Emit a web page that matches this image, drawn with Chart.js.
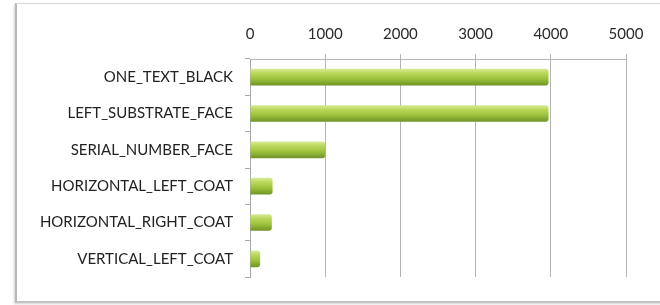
<!DOCTYPE html>
<html>
<head>
<meta charset="utf-8">
<script src="https://cdn.jsdelivr.net/npm/chart.js@4/dist/chart.umd.min.js"></script>
<style>
  html, body { margin: 0; padding: 0; background: #ffffff; width: 660px; height: 305px; overflow: hidden; }
  #frame { position: absolute; left: 15px; top: 3px; width: 700px; height: 297px;
           border: 1px solid #d6d6d6; border-left: 2px solid #b8b8b8; border-bottom: 2px solid #c4c4c4;
           box-shadow: -1px 1px 2px rgba(0,0,0,0.18); background: #fff; }
  #wrap { position: absolute; left: 0; top: 0; width: 660px; height: 305px; }
</style>
</head>
<body>
<div id="frame"></div>
<div id="wrap"><canvas id="c" width="660" height="305"></canvas></div>
<script>
const categories = ["ONE_TEXT_BLACK", "LEFT_SUBSTRATE_FACE", "SERIAL_NUMBER_FACE", "HORIZONTAL_LEFT_COAT", "HORIZONTAL_RIGHT_COAT", "VERTICAL_LEFT_COAT"];
const counts = [3970, 3970, 1000, 300, 290, 135];
const xTicks = [0, 1000, 2000, 3000, 4000, 5000];

function barFill(ctx) {
  const chart = ctx.chart;
  const ys = chart.scales && chart.scales.y;
  if (!chart.chartArea || !ys || ctx.dataIndex === undefined) return '#9bc13c';
  const c = ys.getPixelForValue(ctx.dataIndex);
  const h = 17;
  const g = chart.ctx.createLinearGradient(0, c - h / 2, 0, c + h / 2);
  g.addColorStop(0, '#d9ec9a');
  g.addColorStop(0.25, '#bcd95e');
  g.addColorStop(0.6, '#9cc23c');
  g.addColorStop(1, '#6e9226');
  return g;
}

new Chart(document.getElementById('c'), {
  type: 'bar',
  data: {
    labels: categories,
    datasets: [{
      data: counts,
      backgroundColor: barFill,
      borderWidth: 0,
      borderRadius: { topRight: 3, bottomRight: 3 },
      borderSkipped: 'left',
      barPercentage: 0.9,
      categoryPercentage: 0.51
    }]
  },
  options: {
    indexAxis: 'y',
    responsive: false,
    animation: false,
    devicePixelRatio: 1,
    layout: { padding: { left: 0, right: 34, top: 0, bottom: 28 } },
    plugins: { legend: { display: false }, tooltip: { enabled: false } },
    scales: {
      x: {
        position: 'top',
        min: 0, max: 5000,
        afterBuildTicks: (s) => { s.ticks = xTicks.map(v => ({ value: v })); },
        afterFit: (s) => { s.height = 59; },
        ticks: { color: '#2a2a2a', font: { family: 'Lato', size: 15 }, padding: 11, maxRotation: 0,
                 callback: (v) => String(v) },
        grid: { color: (c) => c.tick && c.tick.value === 0 ? 'rgba(0,0,0,0)' : '#b4b4b4', lineWidth: 1, tickLength: 5, drawTicks: true },
        border: { display: true, color: '#b4b4b4', width: 1 }
      },
      y: {
        afterFit: (s) => { s.width = 250; },
        ticks: { color: '#222222', font: { family: 'Lato', size: 15 }, padding: 12 },
        grid: { drawOnChartArea: false, drawTicks: true, tickLength: 5, color: '#a8a8a8' },
        border: { display: true, color: '#a8a8a8', width: 1 }
      }
    }
  }
});
</script>
</body>
</html>
